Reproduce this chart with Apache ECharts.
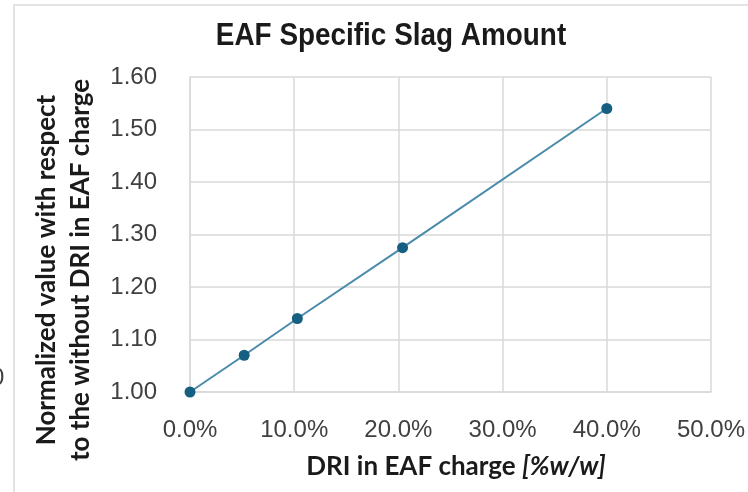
<!DOCTYPE html>
<html>
<head>
<meta charset="utf-8">
<script src="https://cdn.jsdelivr.net/npm/echarts@6/dist/echarts.min.js"></script>
<style>
  html, body { margin: 0; padding: 0; background: #ffffff; }
  #chart { width: 748px; height: 492px; }
</style>
</head>
<body>
<div id="chart"></div>
<script>
// DRI share in the EAF charge (%w/w) and the normalized specific slag amount
const driShare = [0, 5.2, 10.3, 20.4, 40.0];
const slagAmount = [1.00, 1.07, 1.14, 1.275, 1.54];

const xTicks = { min: 0, max: 50, step: 10 };
const yTicks = { min: 1.0, max: 1.6, step: 0.1 };

const chartTitle = 'EAF Specific Slag Amount';
const xTitle = 'DRI in EAF charge ';
const xTitleUnit = '[%w/w]';
const yTitleLines = ['Normalized value with respect', 'to the without DRI in EAF charge'];

const chart = echarts.init(document.getElementById('chart'));

const gridColor = '#d9d9d9';
const labelColor = '#404040';

chart.setOption({
  animation: false,
  backgroundColor: '#ffffff',
  grid: { left: 190, top: 77, width: 528, height: 315, containLabel: false },
  xAxis: {
    type: 'value',
    min: xTicks.min,
    max: xTicks.max,
    interval: xTicks.step,
    axisLine: { show: true, lineStyle: { color: gridColor, width: 1.5 } },
    axisTick: { show: false },
    splitLine: { show: true, lineStyle: { color: gridColor, width: 1.5 } },
    axisLabel: {
      margin: 26,
      color: labelColor,
      fontFamily: 'Liberation Sans',
      fontSize: 24,
      formatter: v => v.toFixed(1) + '%'
    }
  },
  yAxis: {
    type: 'value',
    min: yTicks.min,
    max: yTicks.max,
    interval: yTicks.step,
    axisLine: { show: true, lineStyle: { color: gridColor, width: 1.5 } },
    axisTick: { show: false },
    splitLine: { show: true, lineStyle: { color: gridColor, width: 1.5 } },
    axisLabel: {
      margin: 33,
      color: labelColor,
      fontFamily: 'Liberation Sans',
      fontSize: 24,
      formatter: v => v.toFixed(2)
    }
  },
  series: [{
    type: 'line',
    data: driShare.map((x, i) => [x, slagAmount[i]]),
    symbol: 'circle',
    symbolSize: 11,
    lineStyle: { color: '#4a8bab', width: 2 },
    itemStyle: { color: '#156082' },
    z: 3
  }],
  graphic: [
    // outer frame of the chart area
    { type: 'line', shape: { x1: 13, y1: 5, x2: 748, y2: 5 }, style: { stroke: '#e3e3e3', lineWidth: 2 }, silent: true },
    { type: 'line', shape: { x1: 14, y1: 5, x2: 14, y2: 492 }, style: { stroke: '#e3e3e3', lineWidth: 2 }, silent: true },
    // neighbouring panel's tick label peeking in at the left edge
    { type: 'text', left: -9, top: 366, style: { text: '0', font: '24px "Liberation Sans"', fill: labelColor }, silent: true },
    // chart title, slightly condensed
    {
      type: 'text', x: 391, y: 36, scaleX: 0.9,
      style: {
        text: chartTitle, font: 'bold 31px "Liberation Sans"', fill: '#1a1a1a',
        align: 'center', verticalAlign: 'middle'
      },
      silent: true
    },
    // x axis title with italic unit
    {
      type: 'text', x: 456, y: 467,
      style: {
        text: '{a|' + xTitle + '}{b|' + xTitleUnit + '}',
        align: 'center', verticalAlign: 'middle',
        rich: {
          a: { font: 'bold 26px Lato', fill: '#1a1a1a' },
          b: { font: 'italic bold 26px Lato', fill: '#1a1a1a' }
        }
      },
      silent: true
    },
    // y axis title, two lines rotated
    {
      type: 'text', x: 64, y: 270, rotation: Math.PI / 2,
      style: {
        text: yTitleLines.join('\n'), font: 'bold 26px Lato', fill: '#1a1a1a',
        align: 'center', verticalAlign: 'middle', lineHeight: 34
      },
      silent: true
    }
  ]
});
</script>
</body>
</html>
